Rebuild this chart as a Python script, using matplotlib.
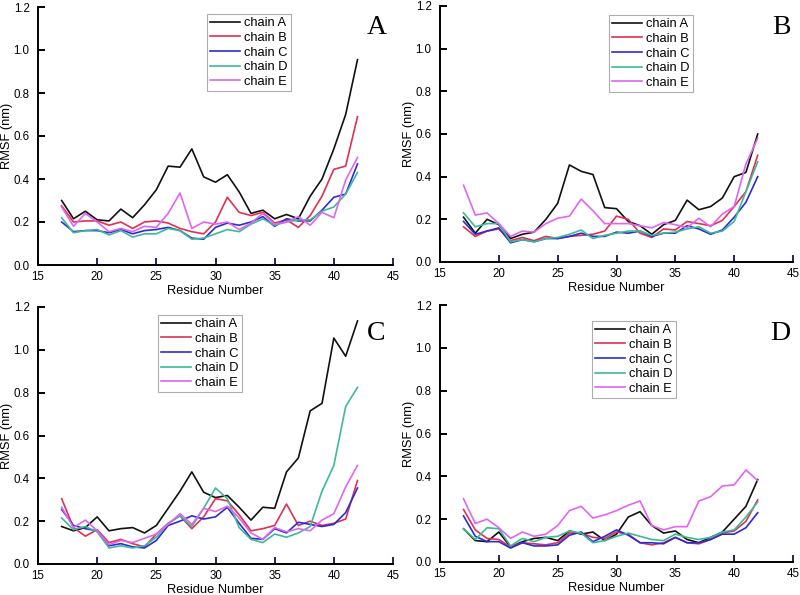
import matplotlib
matplotlib.use('Agg')
import matplotlib.pyplot as plt
import numpy as np

residues = np.arange(17, 43)
chains = ['chain A', 'chain B', 'chain C', 'chain D', 'chain E']
colors = ['#111111', '#e2304e', '#2b2bd6', '#3cba98', '#e065f2']

# panel A
a_A = [0.30, 0.215, 0.25, 0.21, 0.205, 0.26, 0.22, 0.28, 0.35, 0.46, 0.455, 0.54, 0.41,
       0.385, 0.42, 0.34, 0.24, 0.255, 0.215, 0.235, 0.215, 0.32, 0.40, 0.54, 0.70, 0.955]
a_B = [0.275, 0.20, 0.205, 0.205, 0.185, 0.20, 0.17, 0.20, 0.205, 0.195, 0.17, 0.155, 0.145,
       0.20, 0.315, 0.245, 0.23, 0.245, 0.195, 0.21, 0.175, 0.23, 0.32, 0.445, 0.46, 0.69]
a_C = [0.20, 0.155, 0.16, 0.16, 0.15, 0.165, 0.145, 0.16, 0.165, 0.175, 0.16, 0.125, 0.12,
       0.175, 0.195, 0.185, 0.20, 0.225, 0.18, 0.215, 0.205, 0.205, 0.255, 0.315, 0.33, 0.47]
a_D = [0.22, 0.15, 0.16, 0.165, 0.14, 0.16, 0.13, 0.145, 0.145, 0.17, 0.16, 0.12, 0.125,
       0.145, 0.165, 0.155, 0.19, 0.215, 0.185, 0.20, 0.21, 0.21, 0.25, 0.27, 0.33, 0.43]
a_E = [0.27, 0.18, 0.24, 0.20, 0.155, 0.17, 0.155, 0.18, 0.175, 0.24, 0.335, 0.17, 0.20,
       0.19, 0.20, 0.165, 0.195, 0.24, 0.19, 0.20, 0.225, 0.185, 0.245, 0.22, 0.395, 0.50]

# panel B
b_A = [0.21, 0.135, 0.20, 0.175, 0.11, 0.13, 0.14, 0.20, 0.275, 0.455, 0.425, 0.41, 0.255,
       0.25, 0.19, 0.17, 0.13, 0.175, 0.195, 0.29, 0.245, 0.26, 0.30, 0.40, 0.42, 0.60]
b_B = [0.165, 0.12, 0.145, 0.155, 0.10, 0.115, 0.10, 0.12, 0.11, 0.12, 0.125, 0.13, 0.145,
       0.215, 0.20, 0.135, 0.115, 0.155, 0.15, 0.19, 0.18, 0.17, 0.195, 0.26, 0.33, 0.50]
b_C = [0.19, 0.13, 0.145, 0.16, 0.09, 0.105, 0.095, 0.11, 0.11, 0.12, 0.135, 0.12, 0.12,
       0.14, 0.135, 0.145, 0.12, 0.135, 0.135, 0.17, 0.155, 0.13, 0.15, 0.21, 0.28, 0.40]
b_D = [0.23, 0.165, 0.18, 0.18, 0.095, 0.105, 0.095, 0.11, 0.115, 0.13, 0.15, 0.11, 0.125,
       0.135, 0.145, 0.145, 0.125, 0.135, 0.14, 0.155, 0.165, 0.135, 0.145, 0.19, 0.33, 0.47]
b_E = [0.36, 0.22, 0.23, 0.18, 0.12, 0.145, 0.14, 0.18, 0.205, 0.215, 0.295, 0.24, 0.18,
       0.18, 0.18, 0.17, 0.16, 0.185, 0.175, 0.16, 0.205, 0.165, 0.225, 0.26, 0.46, 0.58]

# panel C
c_A = [0.175, 0.155, 0.17, 0.22, 0.155, 0.165, 0.17, 0.145, 0.18, 0.26, 0.34, 0.43, 0.335,
       0.31, 0.32, 0.265, 0.205, 0.265, 0.26, 0.43, 0.495, 0.715, 0.75, 1.055, 0.97, 1.135]
c_B = [0.305, 0.17, 0.13, 0.16, 0.10, 0.115, 0.095, 0.08, 0.14, 0.19, 0.225, 0.165, 0.22,
       0.305, 0.295, 0.23, 0.155, 0.165, 0.18, 0.28, 0.18, 0.20, 0.18, 0.19, 0.21, 0.39]
c_C = [0.255, 0.18, 0.165, 0.155, 0.085, 0.095, 0.08, 0.075, 0.11, 0.18, 0.20, 0.225, 0.21,
       0.22, 0.265, 0.19, 0.12, 0.115, 0.165, 0.145, 0.195, 0.185, 0.175, 0.185, 0.24, 0.355]
c_D = [0.215, 0.16, 0.175, 0.15, 0.075, 0.085, 0.075, 0.085, 0.125, 0.19, 0.225, 0.175, 0.26,
       0.355, 0.305, 0.17, 0.115, 0.10, 0.14, 0.125, 0.145, 0.175, 0.34, 0.46, 0.735, 0.825]
c_E = [0.265, 0.17, 0.205, 0.155, 0.09, 0.11, 0.10, 0.12, 0.14, 0.185, 0.235, 0.185, 0.26,
       0.245, 0.27, 0.215, 0.145, 0.115, 0.17, 0.15, 0.165, 0.155, 0.205, 0.235, 0.36, 0.46]

# panel D
d_A = [0.155, 0.10, 0.095, 0.14, 0.07, 0.095, 0.11, 0.115, 0.10, 0.145, 0.13, 0.14, 0.10,
       0.13, 0.21, 0.235, 0.17, 0.135, 0.145, 0.105, 0.09, 0.115, 0.14, 0.20, 0.26, 0.385]
d_B = [0.245, 0.15, 0.11, 0.105, 0.07, 0.09, 0.085, 0.08, 0.09, 0.135, 0.135, 0.115, 0.11,
       0.14, 0.13, 0.09, 0.08, 0.09, 0.115, 0.09, 0.085, 0.105, 0.135, 0.145, 0.19, 0.29]
d_C = [0.215, 0.12, 0.095, 0.095, 0.065, 0.09, 0.075, 0.075, 0.08, 0.125, 0.14, 0.095, 0.12,
       0.15, 0.125, 0.09, 0.09, 0.085, 0.115, 0.09, 0.09, 0.105, 0.13, 0.13, 0.16, 0.23]
d_D = [0.155, 0.105, 0.16, 0.155, 0.075, 0.11, 0.095, 0.115, 0.12, 0.145, 0.135, 0.09, 0.10,
       0.12, 0.135, 0.12, 0.105, 0.10, 0.13, 0.115, 0.105, 0.115, 0.14, 0.15, 0.21, 0.28]
d_E = [0.295, 0.18, 0.20, 0.16, 0.11, 0.14, 0.12, 0.13, 0.17, 0.24, 0.26, 0.205, 0.22,
       0.24, 0.265, 0.285, 0.17, 0.15, 0.165, 0.165, 0.285, 0.305, 0.355, 0.36, 0.43, 0.38]

panels = [
    ('A', [a_A, a_B, a_C, a_D, a_E]),
    ('B', [b_A, b_B, b_C, b_D, b_E]),
    ('C', [c_A, c_B, c_C, c_D, c_E]),
    ('D', [d_A, d_B, d_C, d_D, d_E]),
]

W, H = 800, 595
# axes boxes in pixels: left, top, right, bottom
boxes = [(38, 7, 393, 265), (440, 6, 793, 262), (38, 307, 393, 564), (440, 305, 793, 562)]
# legend upper-left corner in pixels
legend_pos = [(207, 14), (609, 15), (158, 315), (592, 321)]
letter_pos = [(377, 27), (781, 27), (376, 333), (780, 333)]

fig = plt.figure(figsize=(8, 5.95), dpi=100)
plt.rcParams['font.family'] = ['Liberation Sans', 'DejaVu Sans']

for i, (letter, series) in enumerate(panels):
    l, t, r, b = boxes[i]
    ax = fig.add_axes([l / W, 1 - b / H, (r - l) / W, (b - t) / H])
    for name, vals, col in zip(chains, series, colors):
        ax.plot(residues, vals, color=col, lw=1.2, label=name)
    ax.set_xlim(15, 45)
    ax.set_ylim(0, 1.2)
    ax.set_xticks([15, 20, 25, 30, 35, 40, 45])
    ax.set_yticks(np.arange(0, 1.21, 0.2))
    ax.yaxis.set_major_formatter(matplotlib.ticker.FormatStrFormatter('%.1f'))
    ax.spines['top'].set_visible(False)
    ax.spines['right'].set_visible(False)
    ax.spines['left'].set_linewidth(1.4)
    ax.spines['bottom'].set_linewidth(1.4)
    ax.tick_params(axis='x', direction='in', length=5, width=1.4, color='#22226a', labelsize=8.3, pad=4)
    ax.tick_params(axis='y', direction='in', length=5, width=1.4, labelsize=8.3, pad=6)
    ax.set_xlabel('Residue Number', fontsize=9.3)
    ax.set_ylabel('RMSF (nm)', fontsize=9.3)
    ax.xaxis.set_label_coords(0.5, -20 / (b - t))
    ax.yaxis.set_label_coords(-25 / (r - l), 0.5)
    lx, ly = legend_pos[i]
    leg = ax.legend(loc='upper left', bbox_to_anchor=(lx / W, 1 - ly / H),
                    bbox_transform=fig.transFigure, fontsize=9.3, frameon=True,
                    fancybox=False, handlelength=2.3, handletextpad=0.35,
                    borderpad=0.25, labelspacing=0.2, borderaxespad=0)
    leg.get_frame().set_edgecolor('#999999')
    leg.get_frame().set_linewidth(0.8)
    px, py = letter_pos[i]
    fig.text(px / W, 1 - py / H, letter, fontsize=20, family='Liberation Serif',
             ha='center', va='center')

fig.savefig('out.png', dpi=100)
